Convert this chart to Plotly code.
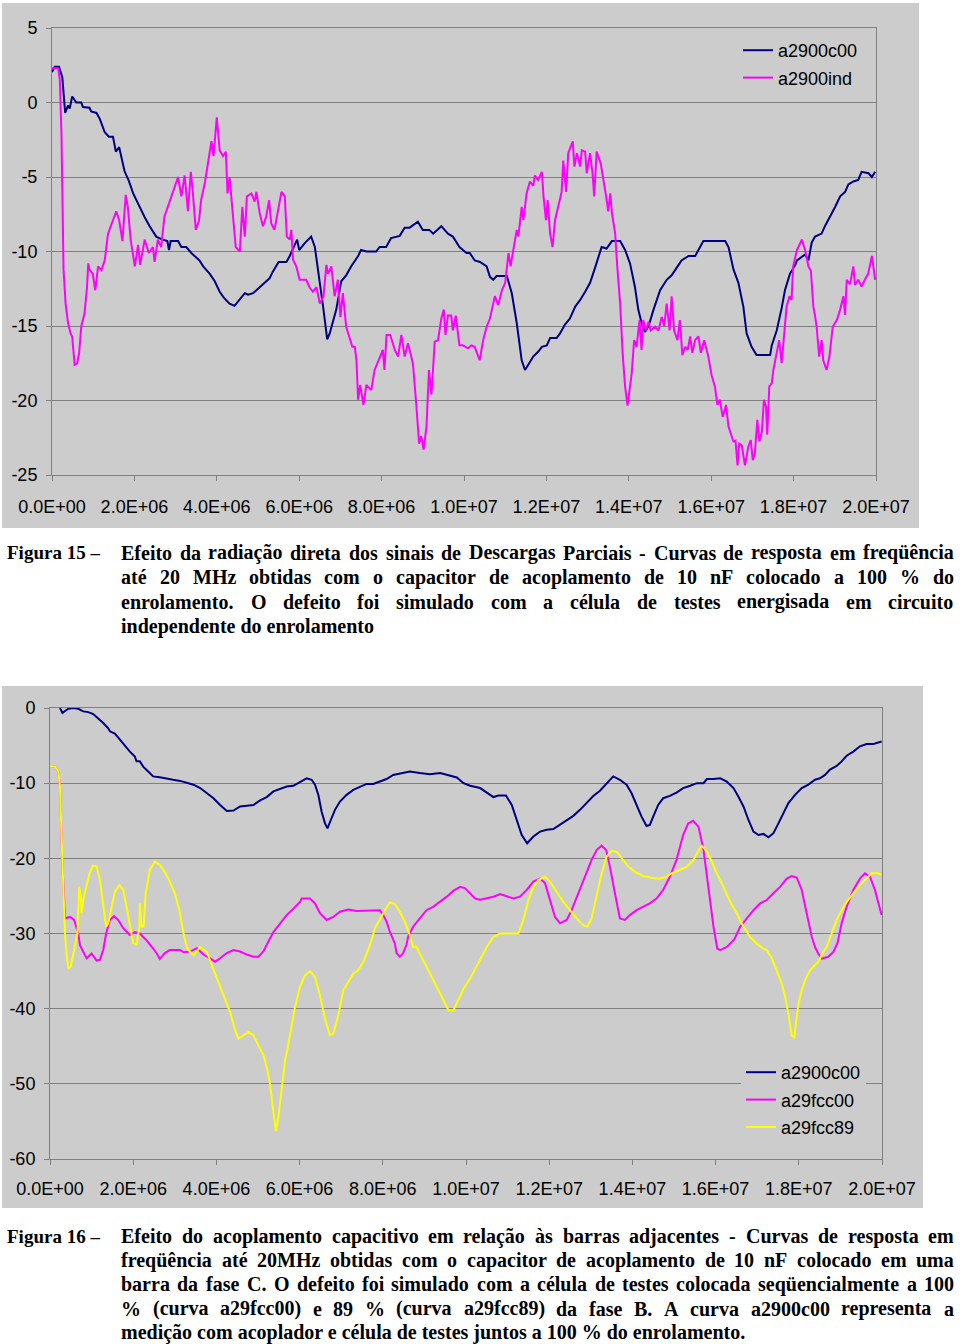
import plotly.graph_objects as go

# ---------------- DATA (frequency in MHz, response in dB) ----------------
# Figure 15
F15_C00 = [0, 0.065, 0.17, 0.25, 0.32, 0.39, 0.43, 0.49, 0.59, 0.71, 0.75, 0.91, 0.95, 1.08, 1.16, 1.28, 1.38, 1.48,
           1.55, 1.63, 1.76, 1.87, 1.97, 2.09, 2.17, 2.25, 2.37, 2.53, 2.68, 2.80, 2.84, 2.88, 3.06, 3.14, 3.26, 3.38,
           3.50, 3.58, 3.67, 3.83, 3.95, 4.07, 4.17, 4.31, 4.43, 4.51, 4.68, 4.76, 4.88, 5.04, 5.16, 5.28, 5.36, 5.45,
           5.50, 5.69, 5.77, 5.95, 6.00, 6.13, 6.29, 6.38, 6.43, 6.50, 6.58, 6.68, 6.74, 6.82, 6.90, 7.02, 7.14, 7.26,
           7.43, 7.50, 7.63, 7.87, 7.95, 8.11, 8.23, 8.44, 8.56, 8.68, 8.88, 9.00, 9.16, 9.25, 9.45, 9.61, 9.73, 9.89,
           10.06, 10.14, 10.26, 10.39, 10.55, 10.63, 10.71, 10.79, 11.04, 11.16, 11.28, 11.40, 11.48, 11.56, 11.68,
           11.81, 11.89, 12.01, 12.09, 12.25, 12.33, 12.45, 12.57, 12.70, 12.82, 12.94, 13.06, 13.18, 13.34, 13.46,
           13.59, 13.79, 13.91, 14.03, 14.15, 14.23, 14.31, 14.39, 14.48, 14.60, 14.76, 14.92, 15.04, 15.16, 15.28,
           15.45, 15.61, 15.73, 15.81, 15.97, 16.34, 16.42, 16.50, 16.54, 16.66, 16.78, 16.86, 16.98, 17.10, 17.43,
           17.47, 17.59, 17.71, 17.79, 17.91, 18.04, 18.08, 18.28, 18.36, 18.44, 18.52, 18.68, 18.76, 18.88, 19.01,
           19.13, 19.25, 19.33, 19.45, 19.57, 19.65, 19.82, 19.90, 19.98]
V15_C00 = [2.05, 2.4, 2.4, 1.7, -0.7, -0.2, -0.4, 0.4, 0.0, 0.0, -0.3, -0.35, -0.6, -0.7, -1.1, -2.0, -2.3, -2.3,
           -3.3, -3.0, -4.6, -5.3, -6.1, -6.8, -7.2, -7.7, -8.3, -9.0, -9.2, -9.3, -9.9, -9.3, -9.3, -9.7, -9.7, -10.1,
           -10.4, -10.6, -11.0, -11.5, -12.0, -12.7, -13.1, -13.5, -13.65, -13.4, -12.8, -12.9, -12.8, -12.4, -12.1,
           -11.8, -11.35, -10.9, -10.7, -10.7, -10.3, -9.2, -9.9, -9.45, -9.0, -9.7, -10.6, -12.1, -13.7, -15.9,
           -15.5, -14.6, -13.9, -12.0, -11.6, -11.0, -10.3, -9.9, -10.0, -10.0, -9.7, -9.7, -9.1, -8.95, -8.4, -8.4,
           -8.0, -8.55, -8.55, -8.8, -8.3, -8.8, -9.0, -9.7, -10.1, -10.1, -10.6, -10.7, -11.0, -11.7, -11.9, -11.65,
           -11.65, -12.8, -14.8, -17.3, -17.95, -17.6, -17.05, -16.7, -16.4, -16.3, -15.8, -15.8, -15.5, -14.9, -14.5,
           -13.7, -13.25, -12.7, -12.1, -11.1, -9.7, -9.8, -9.3, -9.3, -9.9, -10.8, -12.4, -13.9, -14.8, -15.4, -15.0,
           -13.9, -12.6, -11.9, -11.6, -11.1, -10.6, -10.3, -10.3, -9.7, -9.3, -9.3, -9.3, -9.7, -10.8, -11.2, -12.1,
           -13.7, -15.5, -16.4, -16.95, -16.95, -16.3, -15.3, -13.8, -12.6, -11.5, -10.9, -10.6, -10.2, -10.6, -9.4,
           -9.0, -8.8, -8.3, -7.7, -7.0, -6.3, -6.0, -5.5, -5.3, -5.2, -4.65, -4.75, -5.0, -4.65]

F15_IND = [0, 0.15, 0.19, 0.23, 0.28, 0.33, 0.39, 0.45, 0.49, 0.55, 0.61, 0.66, 0.71, 0.79, 0.85, 0.88, 0.91, 0.99,
           1.05, 1.12, 1.20, 1.28, 1.36, 1.48, 1.56, 1.63, 1.71, 1.79, 1.84, 1.91, 2.01, 2.09, 2.14, 2.25, 2.35, 2.45,
           2.49, 2.57, 2.65, 2.73, 2.82, 2.90, 2.98, 3.06, 3.14, 3.22, 3.30, 3.37, 3.42, 3.49, 3.57, 3.62, 3.71, 3.79,
           3.87, 3.92, 4.00, 4.07, 4.15, 4.22, 4.26, 4.31, 4.39, 4.46, 4.56, 4.62, 4.68, 4.73, 4.84, 4.92, 4.96, 5.04,
           5.12, 5.20, 5.27, 5.32, 5.40, 5.48, 5.57, 5.65, 5.70, 5.77, 5.81, 5.85, 5.93, 6.01, 6.17, 6.25, 6.33, 6.42,
           6.50, 6.59, 6.66, 6.70, 6.78, 6.86, 6.94, 7.00, 7.06, 7.14, 7.22, 7.29, 7.35, 7.39, 7.43, 7.48, 7.56, 7.63,
           7.75, 7.83, 7.95, 8.03, 8.07, 8.12, 8.21, 8.32, 8.40, 8.48, 8.56, 8.64, 8.72, 8.76, 8.84, 8.91, 8.96, 9.02,
           9.09, 9.15, 9.21, 9.29, 9.37, 9.45, 9.51, 9.55, 9.61, 9.69, 9.73, 9.80, 9.89, 9.97, 10.10, 10.18, 10.26,
           10.38, 10.47, 10.55, 10.63, 10.75, 10.83, 10.92, 11.00, 11.05, 11.08, 11.13, 11.18, 11.28, 11.32, 11.40,
           11.44, 11.52, 11.60, 11.68, 11.72, 11.80, 11.89, 11.93, 11.99, 12.03, 12.09, 12.15, 12.21, 12.29, 12.37,
           12.41, 12.48, 12.53, 12.64, 12.68, 12.74, 12.82, 12.86, 12.94, 12.98, 13.06, 13.12, 13.16, 13.22, 13.32,
           13.38, 13.45, 13.50, 13.55, 13.59, 13.67, 13.72, 13.79, 13.85, 13.91, 13.97, 14.01, 14.07, 14.13, 14.19,
           14.26, 14.31, 14.35, 14.42, 14.48, 14.53, 14.64, 14.72, 14.80, 14.86, 14.92, 14.99, 15.04, 15.10, 15.18,
           15.24, 15.30, 15.37, 15.43, 15.49, 15.54, 15.61, 15.69, 15.75, 15.83, 15.93, 16.01, 16.09, 16.15, 16.21,
           16.28, 16.36, 16.42, 16.47, 16.54, 16.59, 16.64, 16.68, 16.74, 16.82, 16.90, 16.96, 17.01, 17.06, 17.12,
           17.17, 17.23, 17.28, 17.33, 17.36, 17.41, 17.47, 17.51, 17.59, 17.65, 17.71, 17.77, 17.83, 17.90, 17.95,
           17.99, 18.08, 18.16, 18.20, 18.28, 18.36, 18.42, 18.48, 18.52, 18.56, 18.62, 18.68, 18.72, 18.80, 18.87,
           18.95, 19.05, 19.13, 19.21, 19.25, 19.29, 19.37, 19.45, 19.49, 19.57, 19.65, 19.73, 19.81, 19.90, 19.98]
V15_IND = [2.3, 2.3, 1.5, -2.1, -11.2, -13.5, -14.8, -15.5, -15.7, -17.6, -17.5, -16.8, -15.05, -14.15, -12.4, -10.8,
           -11.2, -11.5, -12.6, -11.0, -11.25, -10.6, -8.8, -7.9, -7.3, -7.9, -9.3, -6.2, -7.0, -9.2, -11.0, -9.55,
           -10.9, -9.2, -10.1, -9.7, -10.7, -9.2, -9.7, -7.65, -7.0, -6.3, -5.65, -5.0, -6.3, -4.9, -7.3, -4.65, -6.1,
           -8.55, -7.9, -6.55, -5.4, -3.9, -2.6, -3.6, -1.0, -3.2, -3.6, -3.3, -6.1, -5.0, -7.4, -9.7, -10.0, -7.0,
           -9.0, -6.3, -6.1, -6.65, -6.0, -7.4, -8.3, -7.65, -6.55, -8.1, -8.55, -7.4, -6.0, -6.3, -9.0, -9.2, -8.55,
           -10.55, -11.0, -11.9, -11.9, -12.4, -12.7, -12.4, -13.5, -13.0, -10.9, -11.5, -11.0, -13.0, -11.9, -14.4,
           -12.8, -15.05, -15.8, -16.4, -16.4, -17.3, -19.95, -18.95, -20.3, -18.95, -19.3, -17.95, -17.15, -16.6,
           -17.95, -15.6, -15.6, -16.6, -17.05, -15.6, -17.05, -16.15, -17.05, -17.5, -20.2, -22.9, -22.4, -23.3,
           -21.75, -17.95, -19.6, -16.05, -15.95, -14.5, -13.9, -15.6, -14.3, -14.3, -15.3, -14.3, -16.3, -16.3,
           -16.5, -16.3, -16.4, -17.3, -15.9, -15.05, -14.5, -13.0, -13.6, -12.6, -12.1, -11.0, -10.1, -11.0, -10.1,
           -8.55, -9.0, -7.0, -7.9, -6.1, -5.3, -5.6, -4.9, -5.2, -4.65, -6.3, -7.9, -6.55, -8.8, -9.7, -7.9, -7.0,
           -6.0, -3.9, -6.0, -3.4, -2.6, -4.3, -3.4, -4.3, -3.2, -3.3, -4.75, -3.4, -4.75, -6.3, -3.3, -4.1, -5.0,
           -6.3, -7.3, -6.1, -7.4, -8.8, -11.0, -13.5, -16.8, -19.05, -20.35, -19.5, -18.2, -15.95, -16.4, -14.6,
           -16.6, -14.6, -15.3, -14.7, -15.3, -15.05, -15.3, -14.4, -15.0, -13.5, -15.3, -13.0, -15.3, -15.95, -14.6,
           -16.95, -16.4, -16.6, -15.7, -16.8, -15.95, -15.7, -16.8, -15.95, -17.05, -18.3, -19.05, -20.3, -19.95,
           -21.1, -20.3, -21.75, -22.2, -22.75, -22.7, -24.35, -22.9, -23.0, -24.35, -23.1, -22.65, -24.0, -23.55,
           -21.3, -22.75, -22.1, -19.95, -20.4, -22.3, -19.05, -18.85, -17.95, -16.8, -15.95, -17.5, -15.7, -13.7,
           -13.0, -13.25, -11.0, -9.9, -9.45, -9.2, -9.9, -11.0, -11.3, -13.7, -14.3, -15.05, -17.05, -15.95, -17.3,
           -17.95, -17.05, -15.05, -14.6, -13.9, -13.0, -14.25, -11.9, -12.2, -11.0, -12.25, -11.9, -12.35, -11.9,
           -11.5, -10.3, -11.9]

# Figure 16
F16_C00 = [0.24, 0.30, 0.36, 0.44, 0.56, 0.68, 0.80, 0.92, 1.04, 1.16, 1.28, 1.40, 1.44, 1.56, 1.68, 1.80, 1.92, 2.04,
           2.08, 2.16, 2.24, 2.36, 2.48, 2.64, 2.80, 2.96, 3.13, 3.29, 3.45, 3.61, 3.77, 3.93, 4.09, 4.25, 4.41, 4.57,
           4.73, 4.89, 5.05, 5.21, 5.37, 5.53, 5.69, 5.85, 6.01, 6.17, 6.29, 6.37, 6.45, 6.53, 6.61, 6.67, 6.75, 6.85,
           6.97, 7.13, 7.29, 7.45, 7.61, 7.77, 7.93, 8.09, 8.25, 8.41, 8.65, 8.89, 9.13, 9.38, 9.62, 9.78, 9.94, 10.10,
           10.34, 10.50, 10.66, 10.78, 10.96, 11.10, 11.22, 11.34, 11.47, 11.62, 11.78, 11.94, 12.10, 12.26, 12.42,
           12.58, 12.74, 12.90, 13.06, 13.22, 13.38, 13.54, 13.70, 13.86, 13.98, 14.10, 14.22, 14.34, 14.42, 14.50,
           14.62, 14.74, 14.90, 15.06, 15.22, 15.39, 15.55, 15.71, 15.79, 15.95, 16.11, 16.27, 16.43, 16.55, 16.67,
           16.79, 16.91, 17.03, 17.15, 17.27, 17.39, 17.51, 17.63, 17.75, 17.91, 18.07, 18.23, 18.39, 18.51, 18.63,
           18.75, 18.91, 19.03, 19.15, 19.31, 19.47, 19.63, 19.79, 19.87, 19.99]
V16_C00 = [0.0, -0.65, -0.4, -0.1, 0.0, -0.1, -0.45, -0.55, -0.8, -1.35, -2.0, -2.7, -3.1, -3.4, -4.2, -5.1, -5.8,
           -6.45, -7.1, -7.1, -7.8, -8.45, -9.1, -9.2, -9.4, -9.55, -9.7, -9.9, -10.2, -10.65, -11.35, -12.0, -12.9,
           -13.7, -13.65, -13.1, -13.0, -12.9, -12.3, -11.85, -11.1, -10.75, -10.45, -10.35, -9.8, -9.35, -9.55, -10.2,
           -11.55, -13.8, -15.35, -16.0, -14.9, -13.55, -12.45, -11.55, -10.9, -10.45, -10.1, -10.1, -9.8, -9.45,
           -8.9, -8.75, -8.45, -8.65, -8.8, -8.65, -9.0, -9.25, -10.0, -10.35, -10.65, -11.3, -11.85, -11.65, -11.65,
           -12.9, -14.9, -16.9, -18.0, -17.1, -16.45, -16.2, -16.1, -15.55, -15.0, -14.35, -13.55, -12.65, -11.7,
           -11.0, -10.0, -9.1, -9.55, -10.2, -11.35, -12.9, -14.45, -15.7, -15.55, -14.45, -12.9, -12.0, -11.7,
           -11.25, -10.65, -10.35, -10.0, -10.0, -9.45, -9.45, -9.35, -9.8, -10.65, -11.8, -13.1, -14.9, -16.45,
           -16.9, -16.75, -17.2, -16.65, -15.35, -14.0, -12.65, -11.55, -10.65, -10.2, -9.55, -9.35, -8.9, -8.2,
           -7.7, -7.1, -6.35, -5.8, -5.1, -4.8, -4.8, -4.65, -4.45]

F16_FCC00 = [0, 0.12, 0.20, 0.24, 0.30, 0.34, 0.36, 0.48, 0.58, 0.68, 0.72, 0.88, 1.00, 1.12, 1.20, 1.28, 1.35, 1.44,
             1.54, 1.64, 1.76, 1.92, 2.04, 2.16, 2.32, 2.48, 2.56, 2.64, 2.76, 2.88, 3.13, 3.21, 3.37, 3.53, 3.69,
             3.85, 3.97, 4.09, 4.25, 4.41, 4.57, 4.73, 4.89, 5.01, 5.13, 5.21, 5.37, 5.53, 5.69, 5.85, 6.01, 6.05,
             6.25, 6.37, 6.49, 6.65, 6.81, 6.97, 7.17, 7.37, 7.61, 7.85, 7.93, 8.01, 8.09, 8.17, 8.29, 8.33, 8.41,
             8.49, 8.57, 8.61, 8.73, 8.89, 9.05, 9.21, 9.38, 9.54, 9.70, 9.86, 9.98, 10.10, 10.22, 10.34, 10.50,
             10.66, 10.82, 10.98, 11.14, 11.30, 11.46, 11.62, 11.78, 11.90, 12.02, 12.14, 12.26, 12.42, 12.54, 12.70,
             12.86, 13.02, 13.14, 13.26, 13.37, 13.46, 13.58, 13.70, 13.82, 13.94, 14.10, 14.26, 14.42, 14.58, 14.74,
             14.90, 15.06, 15.22, 15.34, 15.46, 15.59, 15.71, 15.83, 15.95, 16.04, 16.11, 16.27, 16.39, 16.45, 16.59,
             16.75, 16.91, 17.07, 17.23, 17.39, 17.55, 17.71, 17.83, 17.95, 18.07, 18.19, 18.31, 18.39, 18.47, 18.55,
             18.71, 18.83, 18.93, 19.03, 19.15, 19.31, 19.47, 19.59, 19.71, 19.83, 19.95, 19.99]
V16_FCC00 = [-7.7, -7.8, -8.45, -10.45, -21.0, -27.5, -28.0, -27.8, -28.2, -30.0, -31.55, -33.3, -32.65, -33.6, -33.5,
             -32.2, -30.0, -28.2, -27.7, -28.2, -29.3, -30.2, -29.8, -30.0, -30.9, -32.0, -32.6, -33.4, -32.6, -32.2,
             -32.2, -32.5, -32.4, -31.95, -32.8, -33.3, -33.75, -33.3, -32.6, -32.2, -32.4, -32.8, -33.1, -33.1,
             -32.4, -31.5, -29.8, -28.7, -27.55, -26.7, -25.8, -25.35, -25.35, -26.0, -27.3, -28.2, -27.8, -27.1,
             -26.8, -27.0, -27.0, -27.0, -26.9, -27.55, -28.4, -29.8, -31.3, -32.6, -33.1, -32.6, -31.5, -30.4, -29.1,
             -28.0, -26.9, -26.45, -25.8, -25.1, -24.3, -23.8, -24.0, -24.65, -25.35, -25.5, -25.35, -25.1, -24.75,
             -25.1, -25.35, -25.1, -24.2, -23.1, -22.7, -23.3, -25.55, -27.8, -28.65, -28.2, -26.9, -24.65, -22.45,
             -20.2, -18.9, -18.3, -18.9, -21.1, -24.65, -28.0, -28.2, -27.55, -26.9, -26.45, -26.0, -25.35, -24.2,
             -22.45, -20.2, -16.9, -15.35, -15.0, -15.8, -18.9, -23.8, -29.1, -32.0, -32.2, -31.8, -31.2, -30.8,
             -29.1, -28.0, -26.9, -26.0, -25.55, -24.65, -23.8, -22.7, -22.35, -22.55, -24.2, -27.3, -30.4, -31.8,
             -32.7, -33.35, -33.1, -32.45, -31.3, -28.65, -26.45, -24.2, -22.7, -22.0, -22.45, -24.2, -26.45, -27.55]

F16_FCC89 = [0, 0.12, 0.20, 0.24, 0.30, 0.36, 0.40, 0.44, 0.50, 0.56, 0.64, 0.66, 0.70, 0.74, 0.76, 0.80, 0.87, 0.95,
             1.03, 1.12, 1.20, 1.28, 1.35, 1.40, 1.48, 1.56, 1.67, 1.76, 1.84, 1.92, 2.00, 2.04, 2.08, 2.15, 2.16,
             2.20, 2.25, 2.30, 2.40, 2.52, 2.64, 2.76, 2.88, 3.00, 3.11, 3.21, 3.29, 3.33, 3.45, 3.61, 3.77, 3.89,
             4.01, 4.17, 4.33, 4.45, 4.53, 4.65, 4.77, 4.89, 5.01, 5.13, 5.21, 5.29, 5.35, 5.43, 5.49, 5.57, 5.65,
             5.73, 5.81, 5.89, 6.01, 6.13, 6.25, 6.37, 6.49, 6.61, 6.73, 6.81, 6.93, 7.05, 7.17, 7.29, 7.41, 7.53,
             7.61, 7.69, 7.73, 7.81, 7.93, 8.05, 8.17, 8.29, 8.41, 8.53, 8.65, 8.73, 8.81, 8.97, 9.13, 9.29, 9.46,
             9.58, 9.70, 9.82, 9.94, 10.10, 10.22, 10.34, 10.50, 10.66, 10.82, 11.26, 11.38, 11.50, 11.62, 11.74,
             11.90, 12.02, 12.18, 12.34, 12.50, 12.66, 12.82, 12.92, 13.02, 13.14, 13.26, 13.38, 13.50, 13.62, 13.74,
             13.90, 14.06, 14.26, 14.42, 14.62, 14.78, 14.94, 15.14, 15.31, 15.47, 15.59, 15.67, 15.79, 15.91, 16.03,
             16.19, 16.35, 16.51, 16.67, 16.83, 16.99, 17.15, 17.23, 17.35, 17.47, 17.59, 17.67, 17.75, 17.83, 17.89,
             17.93, 17.99, 18.07, 18.15, 18.27, 18.39, 18.47, 18.59, 18.67, 18.79, 18.91, 19.03, 19.15, 19.31, 19.47,
             19.63, 19.75, 19.91, 19.99]
V16_FCC89 = [-7.7, -7.8, -8.45, -10.45, -20.65, -30.0, -32.7, -34.6, -34.4, -32.7, -30.9, -30.0, -23.8, -25.1, -27.3,
             -25.55, -23.8, -22.0, -21.0, -21.1, -22.9, -26.45, -29.1, -28.65, -26.45, -24.45, -23.55, -24.2, -26.45,
             -29.1, -31.3, -31.35, -31.55, -29.1, -26.0, -29.1, -29.1, -24.65, -21.55, -20.45, -20.9, -21.8, -23.1,
             -24.65, -26.9, -30.0, -31.8, -32.2, -32.9, -31.8, -32.45, -34.2, -36.0, -38.2, -40.45, -42.9, -44.0,
             -43.55, -43.1, -43.55, -44.9, -46.2, -47.8, -50.0, -52.9, -56.3, -54.4, -50.45, -46.9, -44.7, -42.0,
             -39.8, -37.1, -35.55, -35.0, -35.8, -38.2, -41.35, -43.55, -43.3, -40.9, -37.55, -36.45, -35.35, -34.9,
             -33.8, -32.7, -31.55, -30.9, -29.3, -28.0, -26.9, -25.85, -26.1, -27.1, -28.45, -30.2, -31.8, -31.8,
             -33.55, -35.35, -37.1, -39.1, -40.2, -40.2, -38.7, -37.35, -36.0, -34.7, -33.35, -31.8, -30.45, -30.0,
             -30.0, -28.2, -25.55, -23.8, -22.9, -22.45, -23.1, -24.45, -25.8, -26.9, -28.0, -28.9, -29.1, -28.0,
             -25.1, -22.0, -19.8, -19.0, -19.1, -20.0, -21.1, -21.8, -22.35, -22.55, -22.7, -22.55, -22.0, -21.55,
             -21.1, -20.2, -18.9, -18.35, -19.1, -20.45, -22.0, -23.8, -25.8, -27.3, -29.1, -30.45, -31.35, -32.0,
             -32.2, -33.3, -34.9, -36.65, -38.4, -40.7, -43.6, -43.8, -42.0, -39.4, -37.55, -36.2, -34.9, -34.2,
             -33.75, -32.45, -31.8, -30.0, -28.2, -26.9, -25.8, -24.65, -23.55, -22.7, -22.0, -22.0, -22.2]

X_TICKS_MHZ = [0, 2, 4, 6, 8, 10, 12, 14, 16, 18, 20]
X_TICK_TEXT = ["0.0E+00", "2.0E+06", "4.0E+06", "6.0E+06", "8.0E+06", "1.0E+07",
               "1.2E+07", "1.4E+07", "1.6E+07", "1.8E+07", "2.0E+07"]
Y15_TICKS = [5, 0, -5, -10, -15, -20, -25]
Y15_TEXT = ["5", "0", "-5", "-10", "-15", "-20", "-25"]
Y16_TICKS = [0, -10, -20, -30, -40, -50, -60]
Y16_TEXT = ["0", "-10", "-20", "-30", "-40", "-50", "-60"]

CAP15_LABEL = "Figura 15 –"
CAP15_LINES = [
    "Efeito da radiação direta dos sinais de Descargas Parciais - Curvas de resposta em freqüência",
    "até 20 MHz obtidas com o capacitor de acoplamento de 10 nF colocado a 100 % do",
    "enrolamento. O defeito foi simulado com a célula de testes energisada em circuito",
    "independente do enrolamento",
]
CAP16_LABEL = "Figura 16 –"
CAP16_LINES = [
    "Efeito do acoplamento capacitivo em relação às barras adjacentes - Curvas de resposta em",
    "freqüência até 20MHz obtidas com o capacitor de acoplamento de 10 nF colocado em uma",
    "barra da fase C. O defeito foi simulado com a célula de testes colocada seqüencialmente a 100",
    "% (curva a29fcc00) e 89 % (curva a29fcc89) da fase B. A curva a2900c00 representa a",
    "medição com acoplador e célula de testes juntos a 100 % do enrolamento.",
]

# ---------------- FIGURE ----------------
W, H = 960, 1344
NAVY, MAG, YEL = "#000080", "#FF00FF", "#FFFF00"
GRAY_BG = "#cccccc"
AXC = "#808080"
SANS = "Liberation Sans, Arial, sans-serif"
SERIF = "Liberation Serif, Times New Roman, serif"


def px(x):
    return x / W


def py(y):
    return 1 - y / H


def hz(lst):
    return [v * 1e6 for v in lst]


fig = go.Figure()
fig.add_trace(go.Scatter(x=hz(F15_C00), y=V15_C00, mode="lines", name="a2900c00",
                         line=dict(color=NAVY, width=2), xaxis="x", yaxis="y",
                         legend="legend", legendgroup="a"))
fig.add_trace(go.Scatter(x=hz(F15_IND), y=V15_IND, mode="lines", name="a2900ind",
                         line=dict(color=MAG, width=2), xaxis="x", yaxis="y",
                         legend="legend", legendgroup="b"))
fig.add_trace(go.Scatter(x=hz(F16_C00), y=V16_C00, mode="lines", name="a2900c00",
                         line=dict(color=NAVY, width=2), xaxis="x2", yaxis="y2",
                         legend="legend2", legendgroup="c"))
fig.add_trace(go.Scatter(x=hz(F16_FCC00), y=V16_FCC00, mode="lines", name="a29fcc00",
                         line=dict(color=MAG, width=2), xaxis="x2", yaxis="y2",
                         legend="legend2", legendgroup="d"))
fig.add_trace(go.Scatter(x=hz(F16_FCC89), y=V16_FCC89, mode="lines", name="a29fcc89",
                         line=dict(color=YEL, width=2), xaxis="x2", yaxis="y2",
                         legend="legend2", legendgroup="e"))

common_x = dict(range=[0, 2e7], tickmode="array", tickvals=hz(X_TICKS_MHZ), ticktext=X_TICK_TEXT,
                ticks="outside", ticklen=5, tickcolor=AXC, tickwidth=1, showgrid=False, showline=True,
                linecolor=AXC, linewidth=1, mirror=True, zeroline=False, automargin=False,
                tickfont=dict(family=SANS, size=18, color="black"), fixedrange=True)
common_y = dict(ticks="outside", ticklen=5, tickcolor=AXC, tickwidth=1, showgrid=True, gridcolor=AXC,
                gridwidth=1, showline=True, linecolor=AXC, linewidth=1, mirror=True, zeroline=False,
                automargin=False, tickmode="array",
                tickfont=dict(family=SANS, size=18, color="black"), ticklabelstandoff=5, fixedrange=True)

fig.update_layout(
    template="none",
    width=W, height=H, autosize=False,
    margin=dict(l=0, r=0, t=0, b=0, pad=0, autoexpand=False),
    paper_bgcolor="white", plot_bgcolor=GRAY_BG,
    xaxis=dict(domain=[px(52), px(876)], anchor="y", ticklabelstandoff=10, **common_x),
    yaxis=dict(domain=[py(475), py(28)], anchor="x", range=[-25, 5], tickvals=Y15_TICKS, ticktext=Y15_TEXT,
               **common_y),
    xaxis2=dict(domain=[px(50), px(882)], anchor="y2", ticklabelstandoff=8, **common_x),
    yaxis2=dict(domain=[py(1159), py(708)], anchor="x2", range=[-60, 0], tickvals=Y16_TICKS, ticktext=Y16_TEXT,
                **common_y),
    legend=dict(x=px(738), y=py(32), xanchor="left", yanchor="top", bgcolor=GRAY_BG, borderwidth=0,
                font=dict(family=SANS, size=18, color="black"), tracegroupgap=1, itemwidth=30),
    legend2=dict(x=px(741), y=py(1054), xanchor="left", yanchor="top", bgcolor=GRAY_BG, borderwidth=0,
                 font=dict(family=SANS, size=18, color="black"), tracegroupgap=1, itemwidth=30),
    showlegend=True,
)

# gray chart-area backgrounds
fig.add_shape(type="rect", xref="paper", yref="paper", x0=px(2), x1=px(919), y0=py(528), y1=py(3),
              fillcolor=GRAY_BG, line=dict(width=0), layer="below")
fig.add_shape(type="rect", xref="paper", yref="paper", x0=px(2), x1=px(923), y0=py(1208), y1=py(686),
              fillcolor=GRAY_BG, line=dict(width=0), layer="below")

# ---------------- CAPTIONS (justified with Times-Bold metrics) ----------------
TB = {' ': 250, '.': 250, ',': 250, '-': 333, '–': 500, '%': 1000, '(': 333, ')': 333}
TB.update({c: 500 for c in "0123456789"})
TB.update(dict(zip("ABCDEFGHIJKLMNOPQRSTUVWXYZ",
                   [722, 667, 722, 722, 667, 611, 778, 778, 389, 500, 778, 667, 944, 722, 778, 611, 778, 722,
                    556, 667, 722, 722, 1000, 722, 722, 667])))
TB.update(dict(zip("abcdefghijklmnopqrstuvwxyz",
                   [500, 556, 444, 556, 444, 333, 500, 556, 278, 333, 556, 278, 833, 556, 500, 556, 556, 444,
                    389, 333, 556, 500, 722, 500, 500, 444])))
TB.update({'ç': 444, 'ã': 500, 'é': 444, 'ü': 556, 'ê': 444, 'à': 500, 'ó': 500, 'á': 500})

CAP_SIZE = 20
CAP_FONT = dict(family=SERIF, size=CAP_SIZE, color="black")
LABEL_FONT = dict(family=SERIF, size=19, color="black")


def wwidth(word):
    return sum(TB.get(c, 500) for c in word) * CAP_SIZE / 1000.0


def add_caption(label, lines, y0, dy, x0=120, x1=953):
    fig.add_annotation(x=px(6), y=py(y0), xref="paper", yref="paper", text="<b>" + label + "</b>",
                       showarrow=False, xanchor="left", yanchor="middle", borderpad=0, font=LABEL_FONT)
    for i, line in enumerate(lines):
        yy = py(y0 + i * dy)
        if i == len(lines) - 1:
            fig.add_annotation(x=px(x0), y=yy, xref="paper", yref="paper", text="<b>" + line + "</b>",
                               showarrow=False, xanchor="left", yanchor="middle", borderpad=0, font=CAP_FONT)
            continue
        words = line.split(" ")
        widths = [wwidth(w) for w in words]
        gap = (x1 - x0 - sum(widths)) / (len(words) - 1)
        xc = x0
        for w, ww in zip(words, widths):
            fig.add_annotation(x=px(xc), y=yy, xref="paper", yref="paper", text="<b>" + w + "</b>",
                               showarrow=False, xanchor="left", yanchor="middle", borderpad=0, font=CAP_FONT)
            xc += ww + gap


add_caption(CAP15_LABEL, CAP15_LINES, 553, 24.4)
add_caption(CAP16_LABEL, CAP16_LINES, 1236, 24.2)

fig.write_html("out.html")
